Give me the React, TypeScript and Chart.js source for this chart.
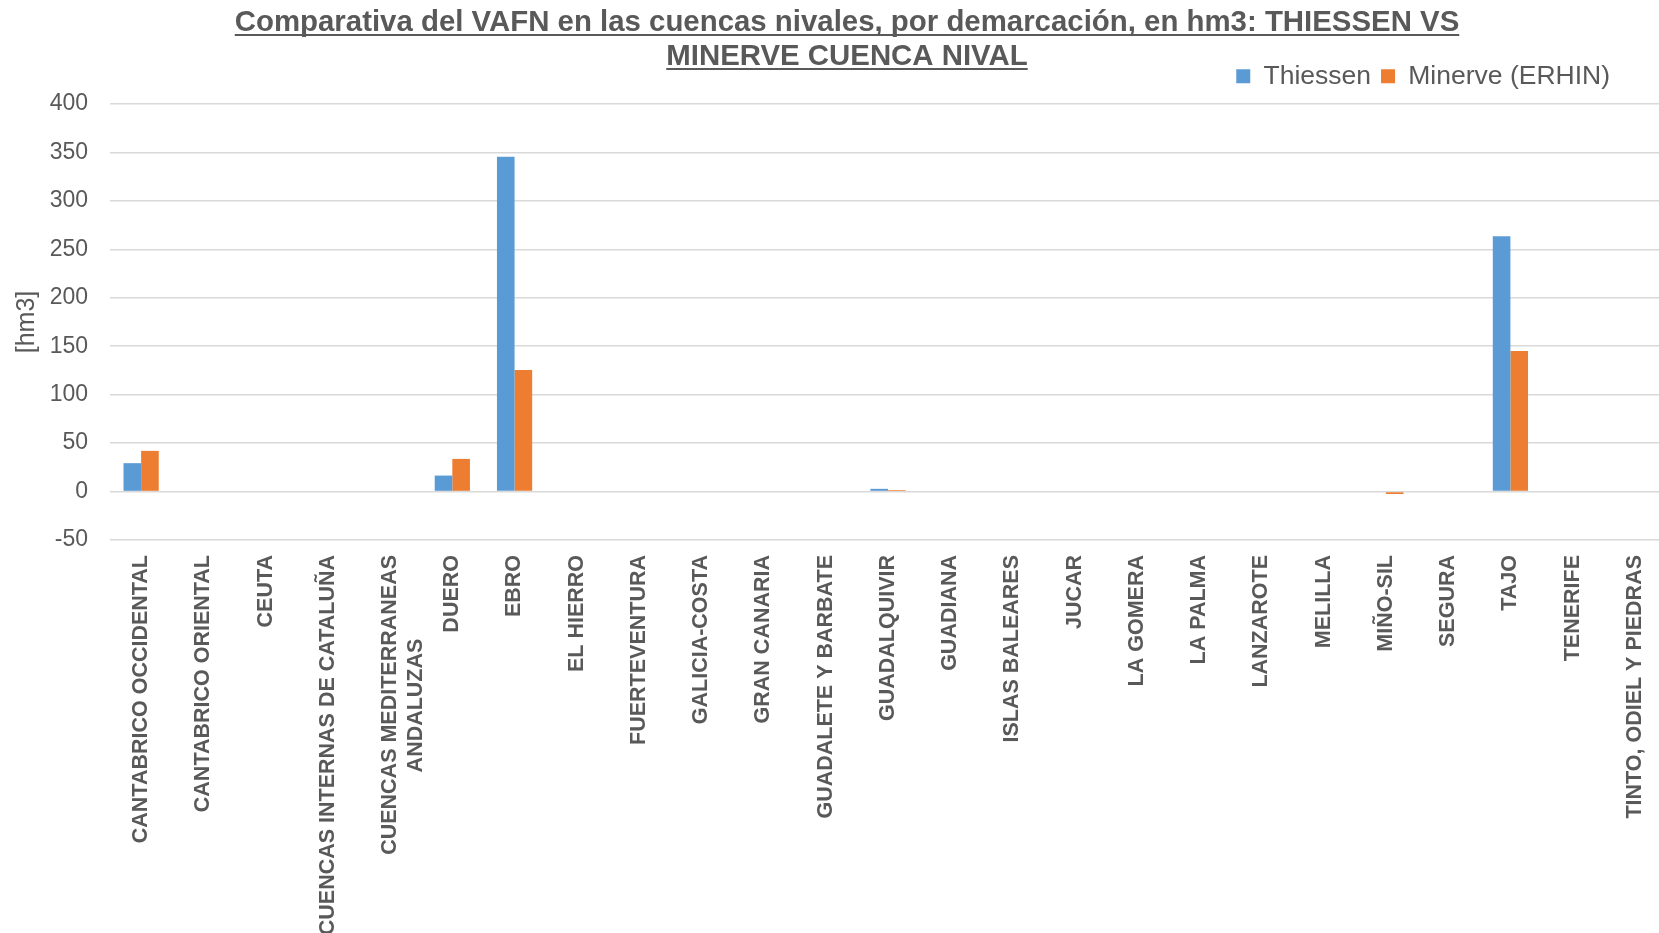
import React, { useEffect, useRef } from "react";
import { Chart, registerables } from "chart.js";

Chart.register(...registerables);

const TITLE_LINES = [
  "Comparativa del VAFN en las cuencas nivales, por demarcación, en hm3: THIESSEN VS",
  "MINERVE CUENCA NIVAL",
];
const Y_TITLE = "[hm3]";
const SERIES_NAMES = ["Thiessen", "Minerve (ERHIN)"];

const CATEGORIES = [
  "CANTABRICO OCCIDENTAL",
  "CANTABRICO ORIENTAL",
  "CEUTA",
  "CUENCAS INTERNAS DE CATALUÑA",
  "CUENCAS MEDITERRANEAS\nANDALUZAS",
  "DUERO",
  "EBRO",
  "EL HIERRO",
  "FUERTEVENTURA",
  "GALICIA-COSTA",
  "GRAN CANARIA",
  "GUADALETE Y BARBATE",
  "GUADALQUIVIR",
  "GUADIANA",
  "ISLAS BALEARES",
  "JUCAR",
  "LA GOMERA",
  "LA PALMA",
  "LANZAROTE",
  "MELILLA",
  "MIÑO-SIL",
  "SEGURA",
  "TAJO",
  "TENERIFE",
  "TINTO, ODIEL Y PIEDRAS",
];

const THIESSEN = [29.3, 0, 0, 0, 0, 16.5, 345.5, 0, 0, 0, 0, 0, 2.8, 0, 0, 0, 0, 0, 0, 0, 0, 0, 263.6, 0, 0];
const MINERVE = [42, 0, 0, 0, 0, 33.7, 125.5, 0, 0, 0, 0, 0, 1.5, 0, 0, 0, 0, 0, 0, 0, -2.5, 0, 145, 0, 0];

const Y_MIN = -50;
const Y_MAX = 400;
const Y_STEP = 50;

const FONT = "'Liberation Sans', Arial, sans-serif";
const TEXT = "#595959";
const X_FONT_SIZE = 21.5;

// Center the lines of a multi-line label (right-aligned when rotated) by padding with trailing spaces.
function buildLabel(c: string): string | string[] {
  if (!c.includes("\n")) return c;
  const lines = c.split("\n");
  const m = document.createElement("canvas").getContext("2d")!;
  m.font = `bold ${X_FONT_SIZE}px ${FONT}`;
  const widths = lines.map((l) => m.measureText(l).width);
  const maxW = Math.max(...widths);
  const sp = m.measureText(" ").width;
  return lines.map((l, i) => l + " ".repeat(Math.round((maxW - widths[i]) / 2 / sp)));
}

export default function App() {
  const ref = useRef<HTMLCanvasElement>(null);

  useEffect(() => {
    document.body.style.margin = "0";
    document.body.style.overflow = "hidden";
    const canvas = ref.current!;

    const titlePlugin = {
      id: "underlinedTitle",
      afterLayout(chart: any) {
        const lg = chart.legend;
        if (lg) {
          lg.top -= 4.5;
          lg.bottom -= 4.5;
          lg.right -= 46;
        }
      },
      afterDraw(chart: any) {
        const ctx = chart.ctx;
        ctx.save();
        ctx.font = `bold 29.4px ${FONT}`;
        ctx.fillStyle = TEXT;
        ctx.textAlign = "center";
        ctx.textBaseline = "alphabetic";
        const cx = 847;
        const baselines = [31, 65];
        TITLE_LINES.forEach((line, i) => {
          const y = baselines[i];
          ctx.fillText(line, cx, y);
          const w = ctx.measureText(line).width;
          ctx.fillRect(cx - w / 2, y + 3, w, 2);
        });
        ctx.restore();
      },
    };

    const chart = new Chart(canvas, {
      type: "bar",
      data: {
        labels: CATEGORIES.map(buildLabel),
        datasets: [
          {
            label: SERIES_NAMES[0],
            data: THIESSEN,
            backgroundColor: "#5B9BD5",
            borderWidth: 0,
          },
          {
            label: SERIES_NAMES[1],
            data: MINERVE,
            backgroundColor: "#ED7D31",
            borderWidth: 0,
          },
        ],
      },
      options: {
        responsive: false,
        animation: false,
        layout: { padding: { top: 57.5, left: 0, right: 4, bottom: 0 } },
        plugins: {
          title: { display: false },
          tooltip: { enabled: false },
          legend: {
            display: true,
            position: "top",
            align: "end",
            labels: {
              boxWidth: 14,
              boxHeight: 14,
              padding: 10,
              color: TEXT,
              font: { family: FONT, size: 26.5 },
            },
          },
        },
        scales: {
          x: {
            grid: { display: false },
            border: { display: false },
            ticks: {
              autoSkip: false,
              maxRotation: 90,
              minRotation: 90,
              padding: 7,
              color: TEXT,
              font: { family: FONT, size: X_FONT_SIZE, weight: "bold" },
            },
            afterFit: (s: any) => {
              s.height = 393;
            },
          },
          y: {
            min: Y_MIN,
            max: Y_MAX,
            grid: { color: "#d9d9d9", lineWidth: 1.5, drawTicks: false },
            border: { display: false },
            ticks: {
              stepSize: Y_STEP,
              padding: 22,
              color: TEXT,
              font: { family: FONT, size: 23 },
            },
            title: {
              display: true,
              text: Y_TITLE,
              color: TEXT,
              font: { family: FONT, size: 25 },
              padding: { top: 12, bottom: 0 },
            },
            afterFit: (s: any) => {
              s.width = 110;
            },
          },
        },
        datasets: {
          bar: { barPercentage: 1, categoryPercentage: 0.566 },
        },
      } as any,
      plugins: [titlePlugin],
    });

    return () => chart.destroy();
  }, []);

  return (
    <div style={{ width: 1659, height: 933, overflow: "hidden", background: "#fff" }}>
      <canvas ref={ref} width={1670} height={933} style={{ display: "block", width: 1670, height: 933 }} />
    </div>
  );
}
